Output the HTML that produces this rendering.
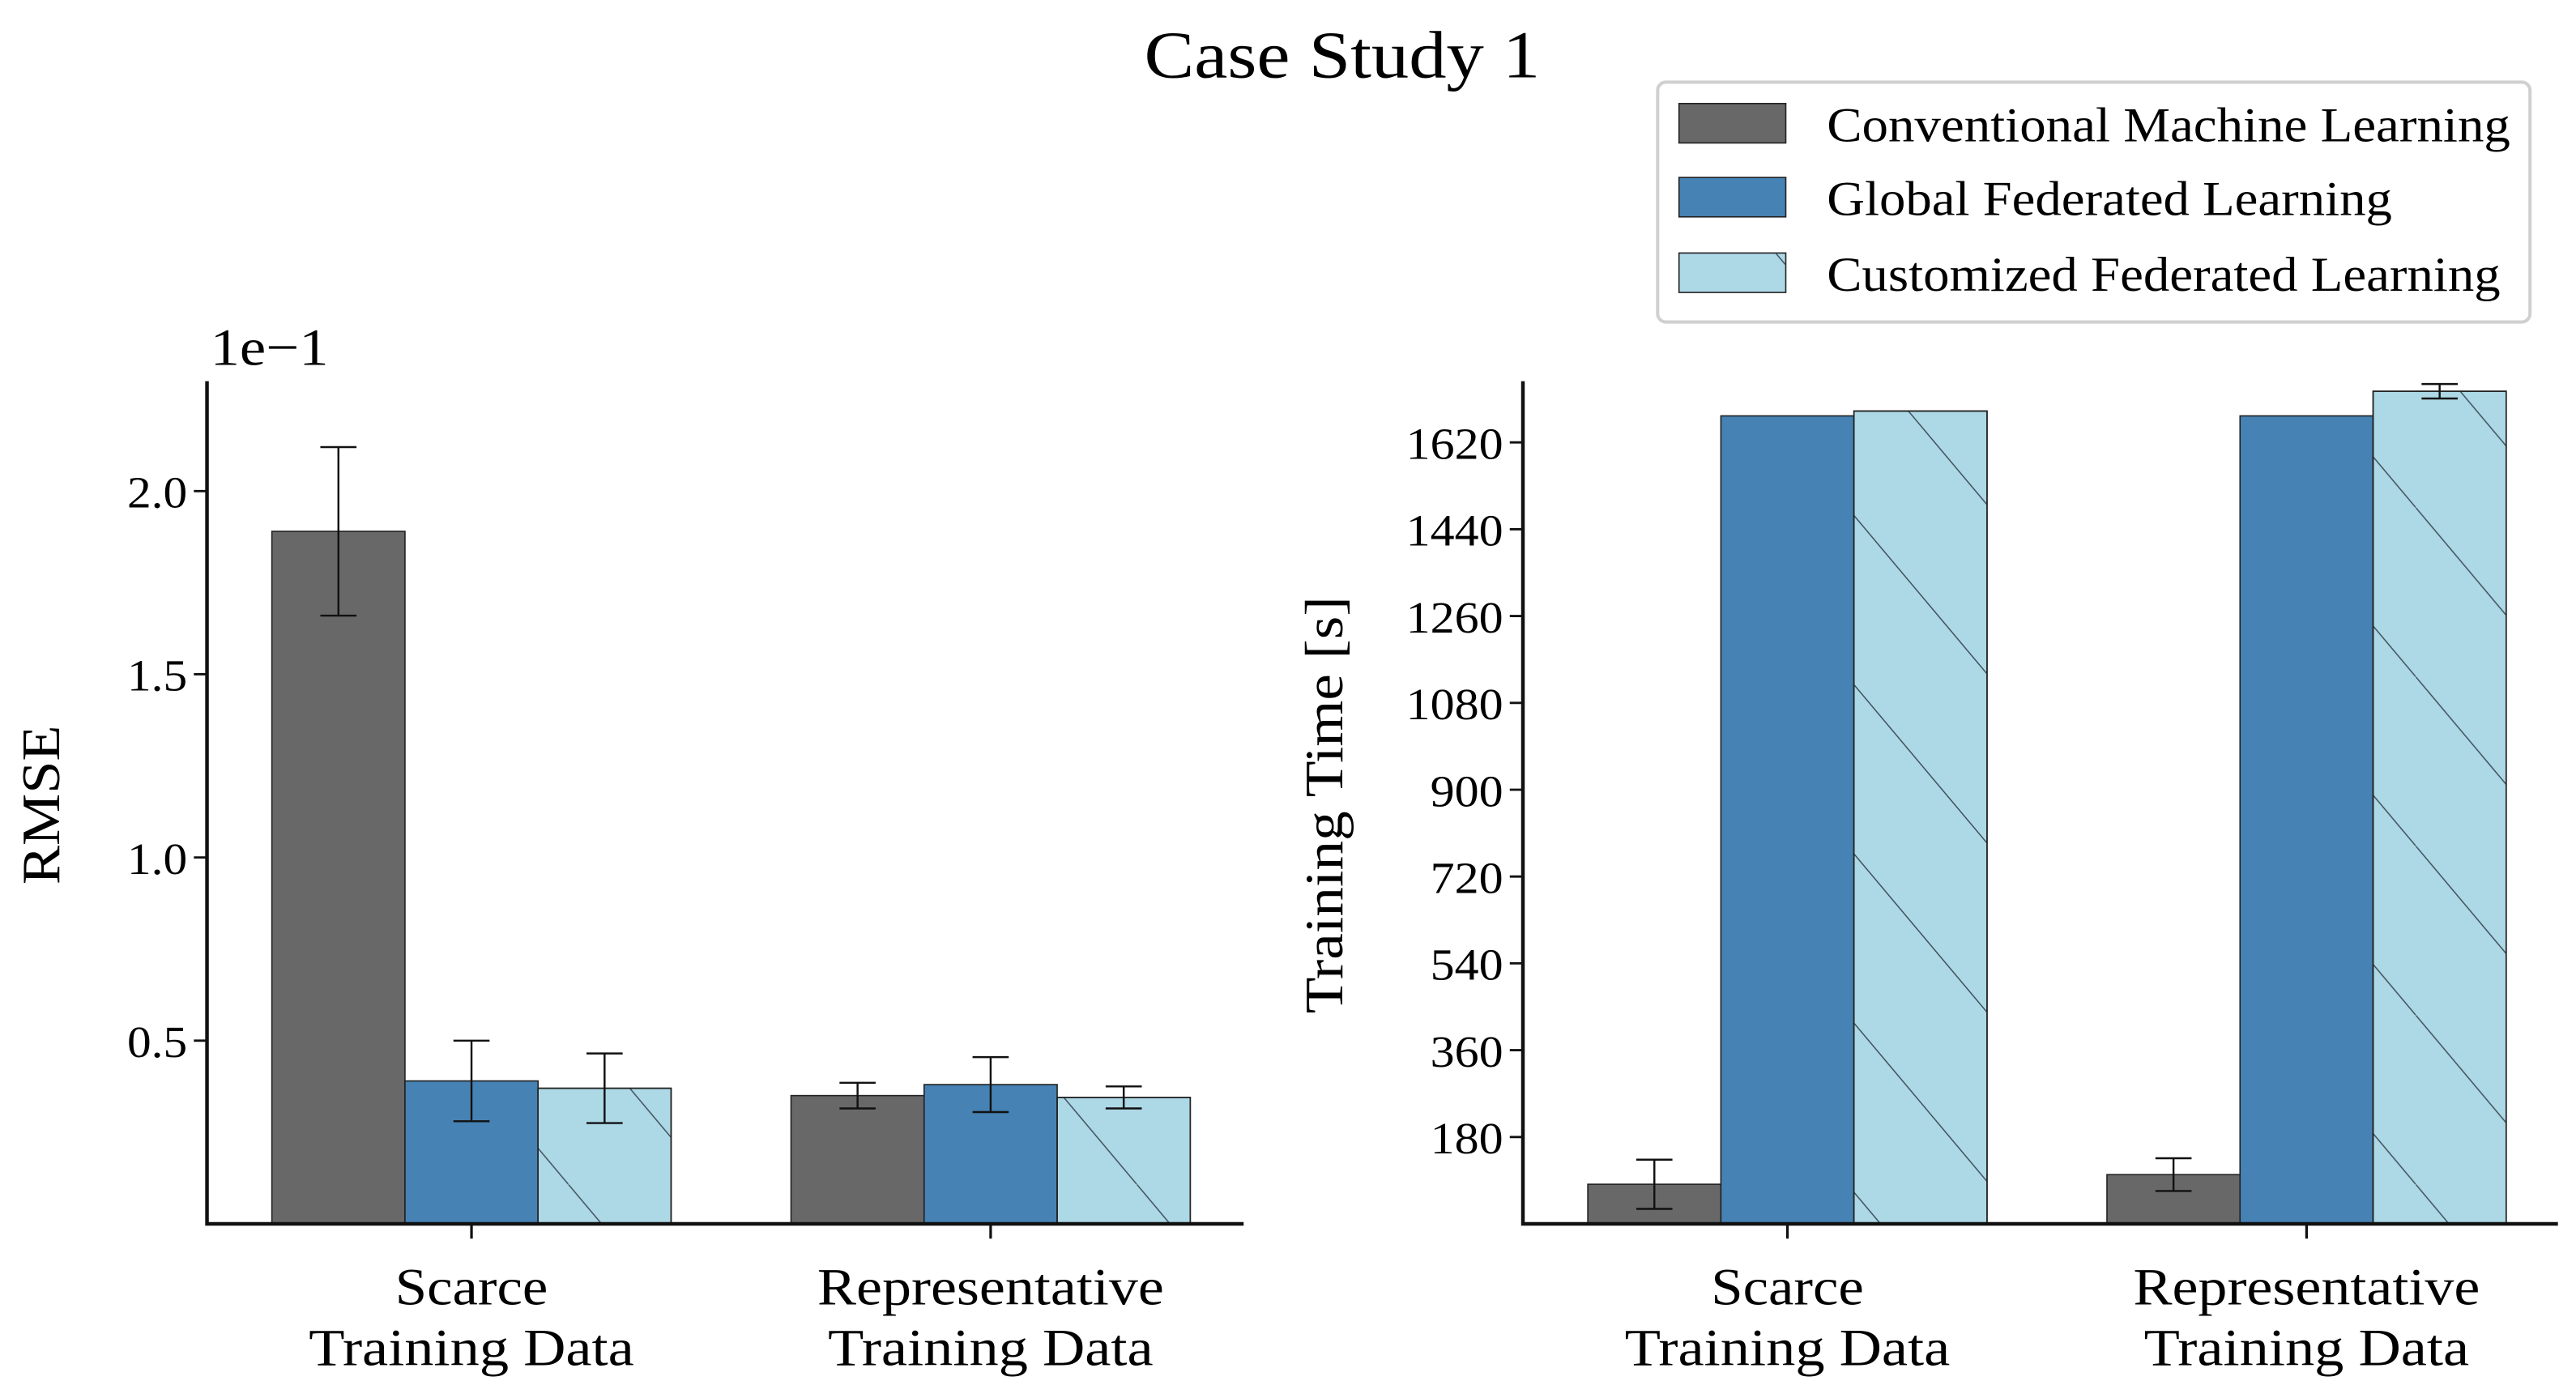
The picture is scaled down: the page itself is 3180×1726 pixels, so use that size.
<!DOCTYPE html>
<html><head><meta charset="utf-8"><style>
html,body{margin:0;padding:0;background:#fff;}
svg{display:block;font-family:"Liberation Serif",serif;}
</style></head><body>
<svg id="fig" width="3180" height="1726" viewBox="0 0 1568 851" xmlns="http://www.w3.org/2000/svg">
<defs>
<pattern id="hatch" patternUnits="userSpaceOnUse" width="86.5" height="103">
<line x1="0" y1="0" x2="86.5" y2="103" stroke="#3a4a55" stroke-width="0.7"/>
</pattern>
</defs>
<text x="817" y="47" font-size="41" text-anchor="middle" textLength="241" lengthAdjust="spacingAndGlyphs">Case Study 1</text>
<g>
<rect x="1009" y="50" width="531" height="146" rx="5" fill="#fff" stroke="#d0d0d0" stroke-width="2"/>
<g><rect x="1022" y="63" width="65" height="24" fill="#686868" stroke="#222" stroke-width="0.8"/><text x="1112" y="86" font-size="30" textLength="416" lengthAdjust="spacingAndGlyphs">Conventional Machine Learning</text></g>
<g><rect x="1022" y="108" width="65" height="24" fill="#4682b4" stroke="#222" stroke-width="0.8"/><text x="1112" y="131" font-size="30" textLength="344" lengthAdjust="spacingAndGlyphs">Global Federated Learning</text></g>
<g><rect x="1022" y="154" width="65" height="24" fill="#add8e6" stroke="#222" stroke-width="0.8"/><rect x="1022" y="154" width="65" height="24" fill="url(#hatch)"/><text x="1112" y="177" font-size="30" textLength="410" lengthAdjust="spacingAndGlyphs">Customized Federated Learning</text></g>
</g>
<g id="left"></g>
<g id="right"></g>
</svg>
<script>
const categories = ["Scarce|Training Data", "Representative|Training Data"];
const series = ["Conventional Machine Learning", "Global Federated Learning", "Customized Federated Learning"];
const rmseValues = [[1.89, 0.39, 0.37], [0.35, 0.38, 0.345]];
const rmseErrors = [[0.23, 0.11, 0.095], [0.035, 0.075, 0.03]];
const rmseTicks = [0.5, 1.0, 1.5, 2.0];
const timeValues = [[82, 1675, 1685], [102, 1675, 1726]];
const timeErrors = [[51, 0, 0], [34, 0, 15]];
const timeTicks = [180, 360, 540, 720, 900, 1080, 1260, 1440, 1620];

const NS = "http://www.w3.org/2000/svg";
const colors = ["#686868", "#4682b4", "#add8e6"];
const labelLen = {"Scarce": 93, "Training Data": 198, "Representative": 211};
function mk(tag, attrs, parent) {
  const e = document.createElementNS(NS, tag);
  for (const k in attrs) e.setAttribute(k, attrs[k]);
  parent.appendChild(e);
  return e;
}
function drawChart(g, cfg) {
  const y = v => cfg.y0 - (v - cfg.min) / (cfg.max - cfg.min) * (cfg.y0 - cfg.yTop);
  const bw = 81;
  categories.forEach((c, ci) => {
    const cx = cfg.cats[ci];
    cfg.values[ci].forEach((v, si) => {
      const x = cx - 1.5 * bw + si * bw;
      const r = mk("rect", {x: x, y: y(v), width: bw, height: cfg.y0 - y(v), fill: colors[si], stroke: "#222", "stroke-width": 0.8}, g);
      
      
      if (si === 2) {
        const h = mk("rect", {x: x, y: y(v), width: bw, height: cfg.y0 - y(v), fill: "url(#hatch)", stroke: "#222", "stroke-width": 0.8}, g);
        
        
      }
      const e = cfg.errors[ci][si];
      if (e > 0) {
        const ex = x + bw / 2;
        const eg = mk("g", {stroke: "#111", "stroke-width": 1.2}, g);
        
        
        mk("line", {x1: ex, x2: ex, y1: y(v - e), y2: y(v + e)}, eg);
        mk("line", {x1: ex - 11, x2: ex + 11, y1: y(v - e), y2: y(v - e)}, eg);
        mk("line", {x1: ex - 11, x2: ex + 11, y1: y(v + e), y2: y(v + e)}, eg);
      }
    });
    const tk = mk("line", {x1: cx, x2: cx, y1: cfg.y0, y2: cfg.y0 + 9, stroke: "#111", "stroke-width": 1.6}, g);
    
    
    const parts = c.split("|");
    parts.forEach((p, pi) => {
      const t = mk("text", {x: cx, y: 794 + pi * 37, "font-size": 32, "text-anchor": "middle", textLength: labelLen[p], lengthAdjust: "spacingAndGlyphs"}, g);
      t.textContent = p;
      
      
    });
  });
  cfg.ticks.forEach(tv => {
    const ty = y(tv);
    const l = mk("line", {x1: cfg.x0 - 8, x2: cfg.x0, y1: ty, y2: ty, stroke: "#111", "stroke-width": 1.4}, g);
    
    
    const s = cfg.fmt(tv);
    const dots = (s.match(/\./g) || []).length;
    const t = mk("text", {x: cfg.x0 - 12, y: ty + 10, "font-size": 27, "text-anchor": "end", textLength: (s.length - dots) * 14.8 + dots * 7, lengthAdjust: "spacingAndGlyphs"}, g);
    t.textContent = s;
    
    
  });
  const ax = mk("path", {d: `M${cfg.x0} ${cfg.yTop} V${cfg.y0} H${cfg.x1}`, fill: "none", stroke: "#111", "stroke-width": 2.2}, g);
  
  
  const yl = mk("text", {x: 0, y: 0, "font-size": 33, "text-anchor": "middle", textLength: cfg.labelLen, lengthAdjust: "spacingAndGlyphs", transform: `translate(${cfg.labelX},${490}) rotate(-90)`}, g);
  yl.textContent = cfg.label;
  
  
}
drawChart(document.getElementById("left"), {id: "rmse", x0: 126, x1: 757, y0: 745, yTop: 232, min: 0, max: 2.3, cats: [287, 603], values: rmseValues, errors: rmseErrors, ticks: rmseTicks, fmt: v => v.toFixed(1), label: "RMSE", labelX: 36, labelLen: 97});
drawChart(document.getElementById("right"), {id: "time", x0: 927, x1: 1557, y0: 745, yTop: 232, min: 0, max: 1747, cats: [1088, 1404], values: timeValues, errors: timeErrors, ticks: timeTicks, fmt: v => String(v), label: "Training Time [s]", labelX: 817, labelLen: 254});
const ex = mk("text", {x: 128, y: 222, "font-size": 32, textLength: 72, lengthAdjust: "spacingAndGlyphs"}, document.getElementById("left"));
ex.textContent = "1e\u22121";


</script>
</body></html>
